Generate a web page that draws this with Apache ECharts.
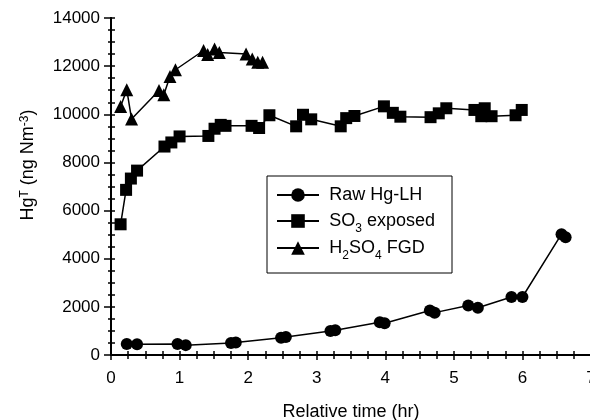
<!DOCTYPE html>
<html>
<head>
<meta charset="utf-8">
<script src="https://cdn.jsdelivr.net/npm/echarts@6/dist/echarts.min.js"></script>
<style>html,body{margin:0;padding:0;background:#fff;}#c{width:590px;height:420px;}</style>
</head>
<body>
<div id="c"></div>
<script>
// Raw Hg-LH (circles)
const rawTime = [0.23,0.38,0.97,1.09,1.75,1.82,2.48,2.55,3.20,3.27,3.92,3.99,4.65,4.72,5.21,5.35,5.84,6.00,6.57,6.63];
const rawHg   = [460,450,460,410,500,520,720,750,1000,1030,1360,1320,1850,1760,2060,1960,2410,2410,5020,4890];
// SO3 exposed (squares)
const so3Time = [0.14,0.22,0.29,0.38,0.78,0.88,1.00,1.42,1.51,1.60,1.67,2.05,2.16,2.31,2.70,2.80,2.92,3.35,3.43,3.55,3.98,4.11,4.22,4.66,4.78,4.89,5.30,5.40,5.45,5.55,5.90,5.99];
const so3Hg   = [5430,6860,7330,7660,8660,8830,9080,9100,9400,9560,9520,9520,9430,9960,9500,9980,9790,9500,9840,9930,10330,10060,9900,9880,10040,10250,10180,9920,10250,9920,9960,10180];
// H2SO4 FGD (triangles)
const h2so4Time = [0.14,0.23,0.30,0.70,0.77,0.86,0.94,1.35,1.41,1.51,1.58,1.97,2.06,2.14,2.21];
const h2so4Hg   = [10320,11020,9800,10990,10810,11570,11850,12650,12480,12710,12570,12500,12300,12160,12160];

const seriesNames = ['Raw Hg-LH','SO3 exposed','H2SO4 FGD'];
const xTitle = 'Relative time (hr)';

const FONT = '"Liberation Sans", Arial, sans-serif';
const zip = (a,b) => a.map((v,i)=>[v,b[i]]);

const chart = echarts.init(document.getElementById('c'), null, {renderer:'canvas'});
const blk = '#000';
const gridRect = {left:111, top:18, width:480, height:337, containLabel:false, outerBoundsMode:'none'};
const noSplit = {show:false};
const plain = v => String(v);

const legendRich = {
  sp:{fontSize:1, lineHeight:28, verticalAlign:'middle'},
  f:{fontSize:18, fontFamily:FONT, color:blk, padding:[0,0,0,5], lineHeight:18, verticalAlign:'middle'},
  a:{fontSize:18, fontFamily:FONT, color:blk, lineHeight:18, verticalAlign:'middle'},
  sub:{fontSize:12, fontFamily:FONT, color:blk, lineHeight:18, verticalAlign:'bottom'}
};
const legendLabels = {
  'Raw Hg-LH':'{sp| }{f|Raw Hg-LH}',
  'SO3 exposed':'{sp| }{f|SO}{sub|3}{a| exposed}',
  'H2SO4 FGD':'{sp| }{f|H}{sub|2}{a|SO}{sub|4}{a| FGD}'
};
const legendTops = [186, 212, 239];
const legends = seriesNames.map((n,i)=>({
  orient:'vertical', left:276, top:legendTops[i],
  itemWidth:42, itemHeight:17, padding:0, z:10,
  data:[n],
  formatter:nm=>legendLabels[nm],
  textStyle:{color:blk,fontSize:18,fontFamily:FONT,rich:legendRich}
}));

const option = {
  animation:false,
  backgroundColor:'#fff',
  grid:[Object.assign({}, gridRect), Object.assign({}, gridRect)],
  xAxis:[
    {gridIndex:0, type:'value', position:'bottom', min:0, max:7, interval:1,
     axisLine:{lineStyle:{color:blk,width:2}},
     axisTick:{inside:false,length:5,lineStyle:{color:blk,width:1.5}},
     axisLabel:{fontSize:17,color:blk,fontFamily:FONT,margin:15,formatter:plain},
     splitLine:noSplit,
     name:xTitle, nameLocation:'middle', nameGap:48,
     nameTextStyle:{fontSize:18,color:blk,fontFamily:FONT}},
    {gridIndex:0, type:'value', position:'top', min:0, max:7, interval:0.25,
     axisLine:{lineStyle:{color:blk,width:2}},
     axisTick:{inside:true,length:4,lineStyle:{color:blk,width:1.5}},
     axisLabel:{show:false}, splitLine:noSplit},
    {gridIndex:1, type:'value', position:'bottom', min:0, max:7, interval:0.25,
     axisLine:{show:false},
     axisTick:{inside:true,length:4,lineStyle:{color:blk,width:1.5}},
     axisLabel:{show:false}, splitLine:noSplit}
  ],
  yAxis:[
    {gridIndex:0, type:'value', position:'left', min:0, max:14000, interval:2000,
     axisLine:{show:true,lineStyle:{color:blk,width:2}},
     axisTick:{show:true,inside:false,length:7,lineStyle:{color:blk,width:1.5}},
     axisLabel:{fontSize:17,color:blk,fontFamily:FONT,margin:11,formatter:plain},
     splitLine:noSplit},
    {gridIndex:0, type:'value', position:'right', min:0, max:14000, interval:500,
     axisLine:{show:true,lineStyle:{color:blk,width:2}},
     axisTick:{show:true,inside:true,length:3,lineStyle:{color:blk,width:1.5}},
     axisLabel:{show:false}, splitLine:noSplit},
    {gridIndex:1, type:'value', position:'left', min:0, max:14000, interval:500,
     axisLine:{show:false},
     axisTick:{show:true,inside:true,length:4,lineStyle:{color:blk,width:1.5}},
     axisLabel:{show:false}, splitLine:noSplit}
  ],
  legend:legends,
  graphic:[
    {type:'rect', z:5, shape:{x:267, y:176, width:185, height:97},
     style:{fill:'#fff', stroke:blk, lineWidth:1}},
    {type:'text', x:28, y:165, rotation:Math.PI/2,
     style:{
       text:'{a|Hg}{sup|T}{a| (ng Nm}{sup|-3}{a|)}',
       align:'center', verticalAlign:'middle',
       rich:{
         a:{fontSize:18,fontFamily:FONT,fill:blk,lineHeight:18,verticalAlign:'middle'},
         sup:{fontSize:12,fontFamily:FONT,fill:blk,lineHeight:12,padding:[0,0,8,0],verticalAlign:'top'}
       }
     }}
  ],
  series:[
    {name:seriesNames[0], type:'line', xAxisIndex:0, yAxisIndex:0, data:zip(rawTime,rawHg),
     symbol:'circle', symbolSize:12, itemStyle:{color:blk}, lineStyle:{color:blk,width:1.5}},
    {name:seriesNames[1], type:'line', xAxisIndex:0, yAxisIndex:0, data:zip(so3Time,so3Hg),
     symbol:'rect', symbolSize:12, itemStyle:{color:blk}, lineStyle:{color:blk,width:1.5}},
    {name:seriesNames[2], type:'line', xAxisIndex:0, yAxisIndex:0, data:zip(h2so4Time,h2so4Hg),
     symbol:'triangle', symbolSize:13, itemStyle:{color:blk}, lineStyle:{color:blk,width:1.5}}
  ]
};
chart.setOption(option);
</script>
</body>
</html>
